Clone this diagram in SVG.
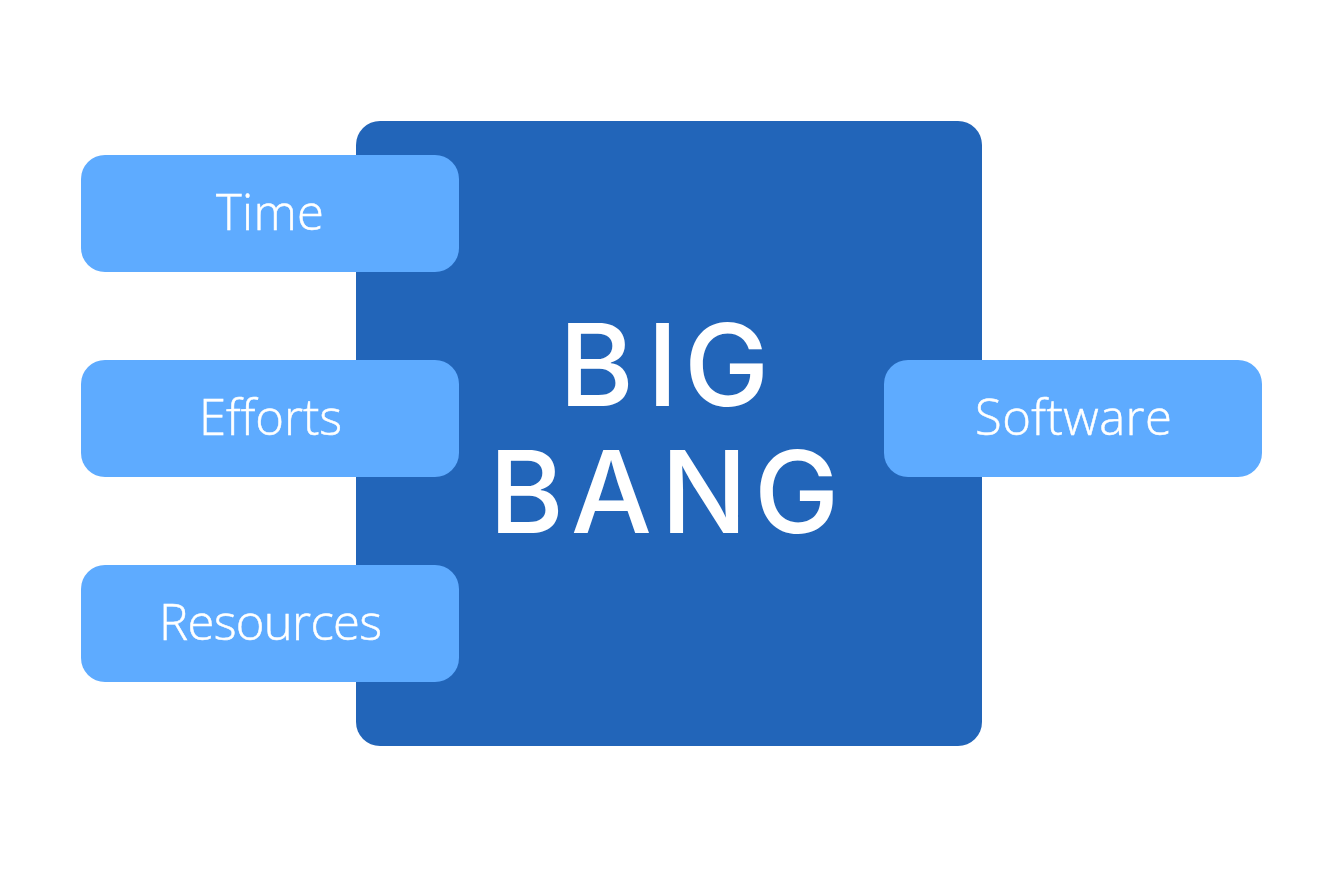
<svg xmlns="http://www.w3.org/2000/svg" width="1343" height="886" viewBox="0 0 1343 886">
<style>
.box{fill:#5eabff}
.lbl{font-family:"Open Sans","Noto Sans",sans-serif;font-size:49px;fill:#fff;font-weight:300;stroke:#fff;stroke-width:.5px}
.big{font-family:"Inter","Liberation Sans",sans-serif;font-size:114px;fill:#fff;font-weight:500}
</style>
<rect width="1343" height="886" fill="#fff"/>
<g id="connectors"/>
<g id="node-bigbang">
<rect x="356" y="121" width="626" height="625" rx="24" fill="#2265b9"/>
<text class="big" x="559 647 684" y="406">BIG</text>
<text class="big" x="489 571 661 754" y="533">BANG</text>
</g>
<g id="node-time"><rect class="box" x="81" y="155" width="378" height="117" rx="24"/><text class="lbl" x="216" y="230" textLength="108" lengthAdjust="spacing">Time</text></g>
<g id="node-efforts"><rect class="box" x="81" y="360" width="378" height="117" rx="24"/><text class="lbl" x="199" y="435" textLength="143" lengthAdjust="spacing">Efforts</text></g>
<g id="node-resources"><rect class="box" x="81" y="565" width="378" height="117" rx="24"/><text class="lbl" x="159" y="640" textLength="223" lengthAdjust="spacing">Resources</text></g>
<g id="node-software"><rect class="box" x="884" y="360" width="378" height="117" rx="24"/><text class="lbl" x="975" y="435" textLength="197" lengthAdjust="spacing">Software</text></g>
</svg>
